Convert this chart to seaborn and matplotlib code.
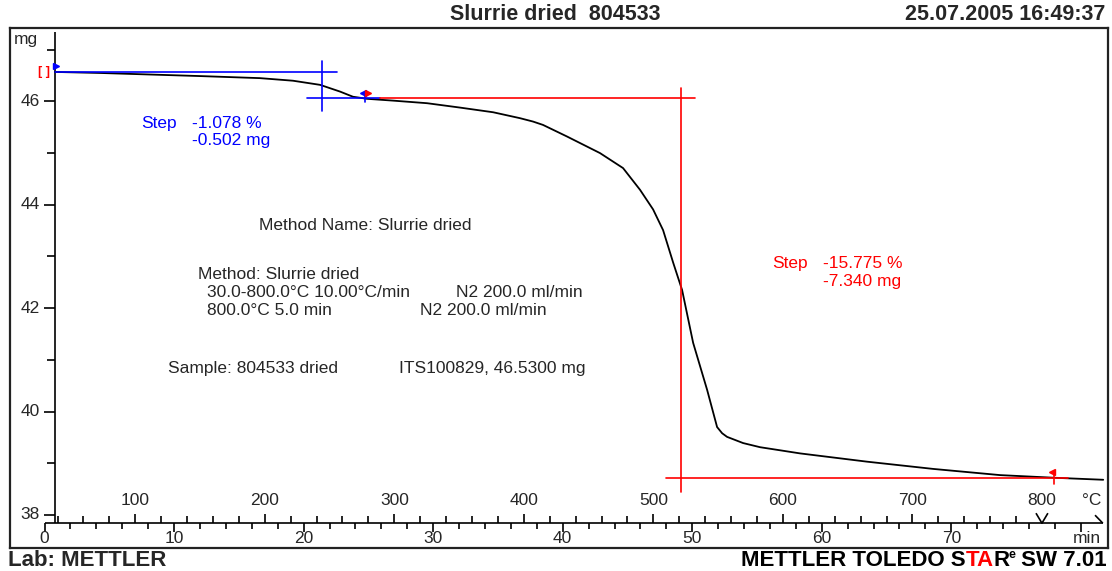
import numpy as np
import pandas as pd
import matplotlib.pyplot as plt
import seaborn as sns

# TGA curve: time (min) vs. sample mass (mg)
time_min = [0.80, 4.28, 8.14, 12.0, 16.63, 19.18, 21.27, 22.81, 23.81, 24.90,
            26.90, 29.53, 32.08, 34.63, 36.71, 37.71, 38.48, 40.34, 42.88, 44.66,
            45.97, 46.98, 47.75, 48.53, 49.22, 50.07, 51.15, 51.92, 52.31, 52.69,
            53.93, 55.24, 56.79, 58.33, 63.5, 68.6, 73.78, 77.87, 81.73]
mass_mg = [46.57, 46.55, 46.52, 46.49, 46.45, 46.40, 46.32, 46.19, 46.09, 46.05,
           46.015, 45.965, 45.88, 45.79, 45.675, 45.61, 45.545, 45.32, 45.0, 44.71,
           44.29, 43.91, 43.51, 42.88, 42.35, 41.33, 40.42, 39.70, 39.58, 39.51,
           39.39, 39.31, 39.25, 39.19, 39.03, 38.89, 38.77, 38.72, 38.68]

# step evaluations (baseline levels in mg, inflection time in min)
step1_levels = [46.56, 46.06]
step1_time = 21.42
step1_text = ["Step", "-1.078 %", "-0.502 mg"]
step2_levels = [46.06, 38.71]
step2_time = 49.1
step2_text = ["Step", "-15.775 %", "-7.340 mg"]

y_major = [38, 40, 42, 44, 46]
y_minor = [39, 41, 43, 45, 47]
min_major = [0, 10, 20, 30, 40, 50, 60, 70, 80]
min_labels = ["0", "10", "20", "30", "40", "50", "60", "70"]
temp_major = [100, 200, 300, 400, 500, 600, 700]
temp_start, heat_rate = 30.0, 10.0

method_lines = ["Method Name: Slurrie dried", "Method: Slurrie dried",
                "30.0-800.0°C 10.00°C/min", "N2 200.0 ml/min",
                "800.0°C 5.0 min", "N2 200.0 ml/min",
                "Sample: 804533 dried", "ITS100829, 46.5300 mg"]

sns.set_style("white")
plt.rcParams['font.family'] = ['Liberation Sans', 'DejaVu Sans']
FS = 12.5

W, H = 1112, 571
fig = plt.figure(figsize=(W / 100, H / 100), dpi=100)
ax = fig.add_axes([10 / W, 1 - 548 / H, 1098 / W, 520 / H])

df = pd.DataFrame({"time": time_min, "mass": mass_mg})
sns.lineplot(data=df, x="time", y="mass", ax=ax, color="black", lw=1.3)

ax.set_xlim(-2.67, 82.1)
ax.set_ylim(37.36, 47.42)
ax.set_xticks([])
ax.set_yticks([])
ax.set_xlabel("")
ax.set_ylabel("")
for s in ax.spines.values():
    s.set_linewidth(1.6)
    s.set_color("#222222")

k = dict(color="black", lw=1.2, solid_capstyle="butt")
px_t = 1 / 12.95   # minutes per pixel
px_m = 1 / 51.69   # mg per pixel

# y axis
y_ax = 0.8
ax.plot([y_ax, y_ax], [37.84, 47.35], **k)
for v in y_major:
    ax.plot([y_ax - 11 * px_t, y_ax], [v, v], **k)
    ax.text(y_ax - 15 * px_t, v, str(v), ha="right", va="center", fontsize=FS)
for v in y_minor:
    ax.plot([y_ax - 8 * px_t, y_ax], [v, v], **k)
ax.text(-2.36, 47.19, "mg", ha="left", va="center", fontsize=FS)

# x axis: minutes below, temperature above
x_ax = 37.84
ax.plot([0, 81.7], [x_ax, x_ax], **k)
for t in np.arange(0, 81, 2):
    ln = 9 if t in min_major else 6
    ax.plot([t, t], [x_ax, x_ax - ln * px_m], **k)
for t, lab in zip(min_major, min_labels):
    ax.text(t, x_ax - 15 * px_m, lab, ha="center", va="center", fontsize=FS)
ax.text(81.55, x_ax - 15 * px_m, "min", ha="right", va="center", fontsize=FS)

for T in np.arange(40, 800, 20):
    t = (T - temp_start) / heat_rate
    ln = 9 if T in temp_major else 7
    ax.plot([t, t], [x_ax, x_ax + ln * px_m], **k)
for T in temp_major + [800]:
    t = (T - temp_start) / heat_rate
    ax.text(t, x_ax + 23 * px_m, str(T), ha="center", va="center", fontsize=FS)
ax.text(81.55, x_ax + 23 * px_m, "°C", ha="right", va="center", fontsize=FS)
t800 = (800 - temp_start) / heat_rate
ax.plot([t800 - 0.46, t800, t800 + 0.46], [x_ax + 10 * px_m, x_ax, x_ax + 10 * px_m], **k)
ax.plot([81.1, 81.7], [x_ax + 8 * px_m, x_ax], **k)

# step 1 (blue)
blue, red = "#0000ff", "#ff0000"
ax.plot([0.8, 22.58], [step1_levels[0]] * 2, color=blue, lw=1.2)
ax.plot([step1_time] * 2, [46.78, 45.81], color=blue, lw=1.2)
ax.plot([20.24, 25.9], [step1_levels[1]] * 2, color=blue, lw=1.2)
ax.text(7.45, 45.58, step1_text[0], color=blue, fontsize=FS, va="center")
ax.text(11.39, 45.58, step1_text[1], color=blue, fontsize=FS, va="center")
ax.text(11.39, 45.24, step1_text[2], color=blue, fontsize=FS, va="center")

# step 2 (red)
ax.plot([25.9, 50.22], [step2_levels[0]] * 2, color=red, lw=1.2)
ax.plot([step2_time] * 2, [46.26, 38.44], color=red, lw=1.2)
ax.plot([47.98, 79.03], [step2_levels[1]] * 2, color=red, lw=1.2)
ax.text(56.17, 42.86, step2_text[0], color=red, fontsize=FS, va="center")
ax.text(60.1, 42.86, step2_text[1], color=red, fontsize=FS, va="center")
ax.text(60.1, 42.51, step2_text[2], color=red, fontsize=FS, va="center")

# limit flags
ax.plot([0.9], [46.69], marker=">", color=blue, ms=5)
ax.plot([24.74, 24.74], [46.16, 45.98], color=blue, lw=1.2)
ax.plot([24.55], [46.16], marker="<", color=blue, ms=5)
ax.plot([24.95], [46.16], marker=">", color=red, ms=5)
ax.plot([77.95, 77.95], [38.83, 38.6], color=red, lw=1.2)
ax.plot([77.8], [38.83], marker="<", color=red, ms=5)
ax.text(-0.04, 46.56, "[ ]", color=red, fontsize=9, fontweight="bold",
        ha="center", va="center")

# method / sample info
info_pos = [(16.56, 43.59), (11.85, 42.66), (12.55, 42.30), (31.78, 42.30),
            (12.55, 41.95), (29.0, 41.95), (9.54, 40.84), (27.37, 40.84)]
for (x, y), s in zip(info_pos, method_lines):
    ax.text(x, y, s, fontsize=FS, ha="left", va="center")

# header and footer
hb = dict(fontsize=15.5, fontweight="bold")
fb = dict(fontsize=16, fontweight="bold")
fig.text(555 / W, 1 - 14 / H, "Slurrie dried  804533", ha="center", va="center", **hb)
fig.text(1105 / W, 1 - 14 / H, "25.07.2005 16:49:37", ha="right", va="center", **hb)
fig.text(8 / W, 1 - 561 / H, "Lab: METTLER", ha="left", va="center", **fb)

r = fig.canvas.get_renderer()
pieces = [("METTLER TOLEDO S", "black", 0), ("TA", red, 0), ("R", "black", 0),
          ("e", "black", 1), (" SW 7.01", "black", 0)]
x = 1107
for s, c, sup in reversed(pieces):
    if sup:
        t = fig.text(x / W, 1 - 555 / H, s, ha="right", va="center", color=c,
                     fontsize=9, fontweight="bold")
        x = t.get_window_extent(renderer=r).x0 + 1
    else:
        t = fig.text(x / W, 1 - 561 / H, s, ha="right", va="center", color=c, **fb)
        x = t.get_window_extent(renderer=r).x0

fig.savefig("out.png", dpi=100)
